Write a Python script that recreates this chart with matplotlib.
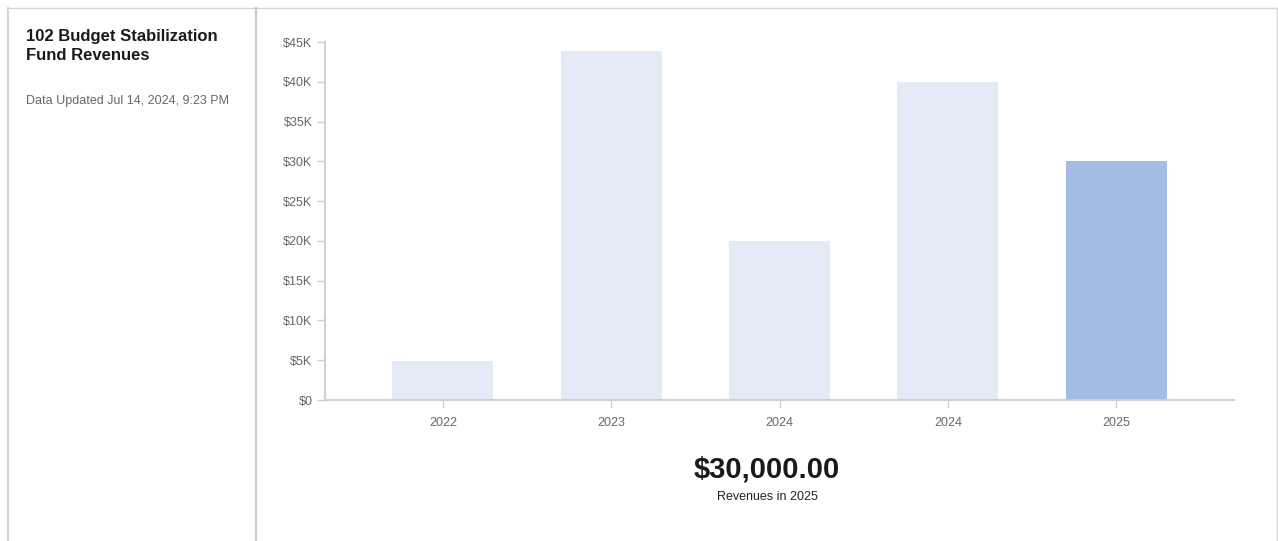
import matplotlib
matplotlib.use('Agg')
import matplotlib.pyplot as plt
from matplotlib.lines import Line2D
from matplotlib.ticker import FuncFormatter

# Data
years = ['2022', '2023', '2024', '2024', '2025']
revenues = [4900, 43900, 20000, 40000, 30000]
highlight = 4  # index of the selected year

W, H = 1278, 541
plt.rcParams['font.family'] = ['Liberation Sans', 'DejaVu Sans']

fig = plt.figure(figsize=(W / 100, H / 100), dpi=100)
fig.patch.set_facecolor('white')


def fx(px):
    return px / W


def fy(py):
    return 1 - py / H


# Card border and divider
border = '#d3d5d9'
fig.add_artist(Line2D([fx(8), fx(1277)], [fy(8), fy(8)], color=border, lw=1.0))
fig.add_artist(Line2D([fx(8), fx(8)], [fy(8), 0], color=border, lw=1.5))
fig.add_artist(Line2D([fx(1277), fx(1277)], [fy(8), 0], color=border, lw=1.0))
fig.add_artist(Line2D([fx(256), fx(256)], [fy(8), 0], color='#c8cacd', lw=1.5))

# Left panel texts
fig.text(fx(26), fy(46), '102 Budget Stabilization\nFund Revenues', fontsize=12,
         fontweight='bold', color='#1a1a1a', ha='left', va='center', linespacing=1.4)
fig.text(fx(26), fy(101), 'Data Updated Jul 14, 2024, 9:23 PM', fontsize=9,
         color='#666666', ha='left', va='center')

# Bar chart
ax = fig.add_axes([fx(325), fy(400), fx(1234) - fx(325), fy(42) - fy(400)])
colors = ['#a3bce4' if i == highlight else '#e4eaf6' for i in range(len(years))]
x = list(range(len(years)))
ax.bar(x, revenues, width=0.6, color=colors, zorder=2)
ax.set_xlim(-0.7, len(years) - 0.3)
ax.set_ylim(0, 45000)
ax.set_yticks(range(0, 45001, 5000))
ax.yaxis.set_major_formatter(FuncFormatter(lambda v, p: '$0' if v == 0 else f'${int(v / 1000)}K'))
ax.set_xticks(x)
ax.set_xticklabels(years)

axis_col = '#ccd0d6'
for s in ['top', 'right']:
    ax.spines[s].set_visible(False)
for s in ['left', 'bottom']:
    ax.spines[s].set_color(axis_col)
    ax.spines[s].set_linewidth(1.5)
ax.tick_params(axis='both', colors=axis_col, labelcolor='#666666', labelsize=9,
               length=6, width=1)
ax.tick_params(axis='x', pad=6)
ax.tick_params(axis='y', pad=3)

# Summary value
fig.text(fx(767), fy(469), '$30,000.00', fontsize=21, fontweight='bold',
         color='#1a1a1a', ha='center', va='center')
fig.text(fx(767), fy(497), 'Revenues in 2025', fontsize=9, color='#222222',
         ha='center', va='center')

fig.savefig('out.png', dpi=100)
